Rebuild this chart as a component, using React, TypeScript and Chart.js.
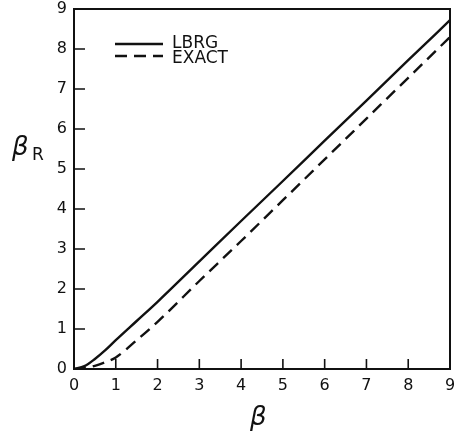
import React, { useEffect, useRef } from "react";
import { Chart, registerables } from "chart.js";

Chart.register(...registerables);

const betaValues = [0, 0.25, 0.5, 0.75, 1, 1.5, 2, 3, 4, 5, 6, 7, 8, 9];
const lbrgValues = [0, 0.07, 0.25, 0.47, 0.72, 1.2, 1.68, 2.69, 3.7, 4.7, 5.71, 6.71, 7.72, 8.72];
const exactValues = [0, 0.02, 0.08, 0.17, 0.29, 0.72, 1.18, 2.2, 3.2, 4.22, 5.24, 6.26, 7.28, 8.3];
const tickValues = [0, 1, 2, 3, 4, 5, 6, 7, 8, 9];
const seriesLabels = ["LBRG", "EXACT"];

const FONT = "'DejaVu Sans', sans-serif";

const framePlugin = {
  id: "frame",
  afterDatasetsDraw(chart: any) {
    const { ctx, chartArea } = chart;
    const xs = chart.scales.x;
    const ys = chart.scales.y;
    ctx.save();
    ctx.strokeStyle = "#111";
    ctx.lineWidth = 2;
    ctx.strokeRect(chartArea.left, chartArea.top, chartArea.right - chartArea.left, chartArea.bottom - chartArea.top);
    ctx.lineWidth = 1.6;
    ctx.beginPath();
    for (const v of tickValues) {
      if (v === 0 || v === 9) continue;
      const px = xs.getPixelForValue(v);
      ctx.moveTo(px, chartArea.bottom);
      ctx.lineTo(px, chartArea.bottom - 10);
      const py = ys.getPixelForValue(v);
      ctx.moveTo(chartArea.left, py);
      ctx.lineTo(chartArea.left + 11, py);
    }
    ctx.stroke();

    // legend
    const datasets = chart.data.datasets;
    const lx0 = 115;
    const lx1 = 163;
    const lineRows = [44, 56];
    const textRows = [44, 59];
    ctx.font = `17px ${FONT}`;
    ctx.fillStyle = "#111";
    ctx.textBaseline = "middle";
    datasets.forEach((ds: any, i: number) => {
      ctx.save();
      ctx.lineWidth = ds.borderWidth;
      ctx.setLineDash(ds.borderDash || []);
      ctx.beginPath();
      ctx.moveTo(lx0, lineRows[i]);
      ctx.lineTo(lx1, lineRows[i]);
      ctx.stroke();
      ctx.restore();
      ctx.fillText(ds.label, 172, textRows[i]);
    });

    // axis titles
    ctx.textBaseline = "alphabetic";
    ctx.font = `italic 26px 'DejaVu Sans', sans-serif`;
    ctx.fillText("β", 250, 425);
    ctx.fillText("β", 12, 155);
    ctx.font = `17px ${FONT}`;
    ctx.fillText("R", 32, 160);
    ctx.restore();
  },
};

export default function App() {
  const ref = useRef<HTMLCanvasElement>(null);
  useEffect(() => {
    document.body.style.margin = "0";
    const chart = new Chart(ref.current!, {
      type: "line",
      data: {
        datasets: [
          {
            label: seriesLabels[0],
            data: betaValues.map((b, i) => ({ x: b, y: lbrgValues[i] })),
            borderColor: "#111",
            borderWidth: 2.4,
            pointRadius: 0,
            cubicInterpolationMode: "monotone",
            fill: false,
          },
          {
            label: seriesLabels[1],
            data: betaValues.map((b, i) => ({ x: b, y: exactValues[i] })),
            borderColor: "#111",
            borderWidth: 2.4,
            borderDash: [12, 7],
            pointRadius: 0,
            cubicInterpolationMode: "monotone",
            fill: false,
          },
        ],
      },
      options: {
        animation: false,
        responsive: false,
        layout: { padding: { top: 9, right: 4, left: 0, bottom: 0 } },
        plugins: { legend: { display: false }, tooltip: { enabled: false } },
        scales: {
          x: {
            type: "linear",
            min: 0,
            max: 9,
            afterBuildTicks: (s: any) => {
              s.ticks = tickValues.map((v) => ({ value: v }));
            },
            afterFit: (s: any) => {
              s.height = 67;
              s.paddingRight = 0;
            },
            grid: { display: false, drawTicks: false },
            border: { display: false },
            ticks: { color: "#111", font: { family: FONT, size: 16 }, padding: 7, maxRotation: 0 },
          },
          y: {
            type: "linear",
            min: 0,
            max: 9,
            afterBuildTicks: (s: any) => {
              s.ticks = tickValues.map((v) => ({ value: v }));
            },
            afterFit: (s: any) => {
              s.width = 74;
              s.paddingTop = 0;
            },
            grid: { display: false, drawTicks: false },
            border: { display: false },
            ticks: { color: "#111", font: { family: FONT, size: 16 }, padding: 7 },
          },
        },
      },
      plugins: [framePlugin],
    } as any);
    return () => chart.destroy();
  }, []);
  return (
    <div style={{ width: 454, height: 436 }}>
      <canvas ref={ref} width={454} height={436} style={{ display: "block" }} />
    </div>
  );
}
